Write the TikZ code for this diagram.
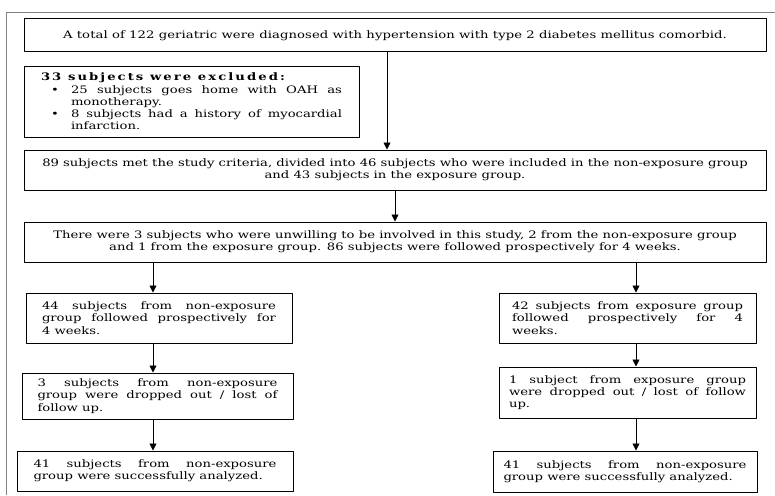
\documentclass[tikz,border=0pt]{standalone}
\usepackage{fontspec}
\setmainfont{DejaVu Serif}[FakeStretch=1.28]
\usetikzlibrary{arrows.meta}
\begin{document}
\begin{tikzpicture}[x=1pt,y=-1pt,line join=round,>={Stealth[inset=0pt,length=7pt,width=7pt]},thick]
\tikzset{every node/.style={font=\fontsize{10.3}{12.3}\selectfont},
  flowbox/.style={draw,line width=1pt,inner xsep=2pt,inner ysep=2pt},
  parbox/.style={flowbox,align=justify}}
\useasboundingbox (0,0) rectangle (775,495);
\draw[gray,thin] (775,12)--(6,12)--(6,495);
\node[flowbox,minimum width=742,minimum height=33,align=center] (total) at (395,35.5)
  {\addfontfeature{LetterSpace=0.8}A total of 122 geriatric were diagnosed with hypertension with type 2 diabetes mellitus comorbid.};
\node[parbox,minimum width=335,minimum height=71,text width=301] (excl) at (191.5,101.5)
  {{\addfontfeature{LetterSpace=20}\textbf{33 subjects were excluded:}}\par
   \hangindent=30pt\hangafter=1\hspace*{10pt}\makebox[20pt][l]{\textbullet}25 subjects goes home with OAH as \linebreak monotherapy.\par
   \hangindent=30pt\hangafter=1\hspace*{10pt}\makebox[20pt][l]{\textbullet}8 subjects had a history of myocardial \linebreak infarction.\par};
\node[flowbox,minimum width=742,minimum height=40,align=center] (met) at (395,170)
  {89 subjects met the study criteria, divided into 46 subjects who were included in the non-exposure group\\
   and 43 subjects in the exposure group.};
\node[flowbox,minimum width=742,minimum height=40,align=center] (unwill) at (395,242)
  {There were 3 subjects who were unwilling to be involved in this study, 2 from the non-exposure group\\
   and 1 from the exposure group. 86 subjects were followed prospectively for 4 weeks.};
\node[parbox,minimum width=266,minimum height=50,text width=234] (nonexp) at (159,318)
  {44 subjects from non-exposure \linebreak group followed prospectively for \linebreak 4 weeks.};
\node[parbox,minimum width=257,minimum height=50,text width=231] (exp) at (627.5,318)
  {42 subjects from exposure group \linebreak followed prospectively for 4 \linebreak weeks.};
\node[parbox,minimum width=271,minimum height=46,text width=240] (dropn) at (157.5,396)
  {3 subjects from non-exposure \linebreak group were dropped out / lost of \linebreak follow up.};
\node[parbox,minimum width=257,minimum height=51,text width=237] (drope) at (627.5,392.5)
  {1 subject from exposure group \linebreak were dropped out / lost of follow \linebreak up.};
\node[parbox,minimum width=276,minimum height=40,text width=243] (analn) at (155,471)
  {41 subjects from non-exposure \linebreak group were successfully analyzed.};
\node[parbox,minimum width=264,minimum height=41,text width=243] (anale) at (625,471.5)
  {41 subjects from non-exposure \linebreak group were successfully analyzed.};
\coordinate (top) at (387,0);
\coordinate (colL) at (153,0);
\coordinate (colR) at (636,0);
\draw[->] (total.south -| top) -- (met.north -| top);
\draw[->] (met) -- (unwill);
\draw[->] (unwill.south -| colL) -- (nonexp.north -| colL);
\draw[->] (unwill.south -| colR) -- (exp.north -| colR);
\draw[->] (nonexp.south -| colL) -- (dropn.north -| colL);
\draw[->] (exp.south -| colR) -- (drope.north -| colR);
\draw[->] (dropn.south -| colL) -- (analn.north -| colL);
\draw[->] (drope.south -| colR) -- (anale.north -| colR);
\end{tikzpicture}
\end{document}
